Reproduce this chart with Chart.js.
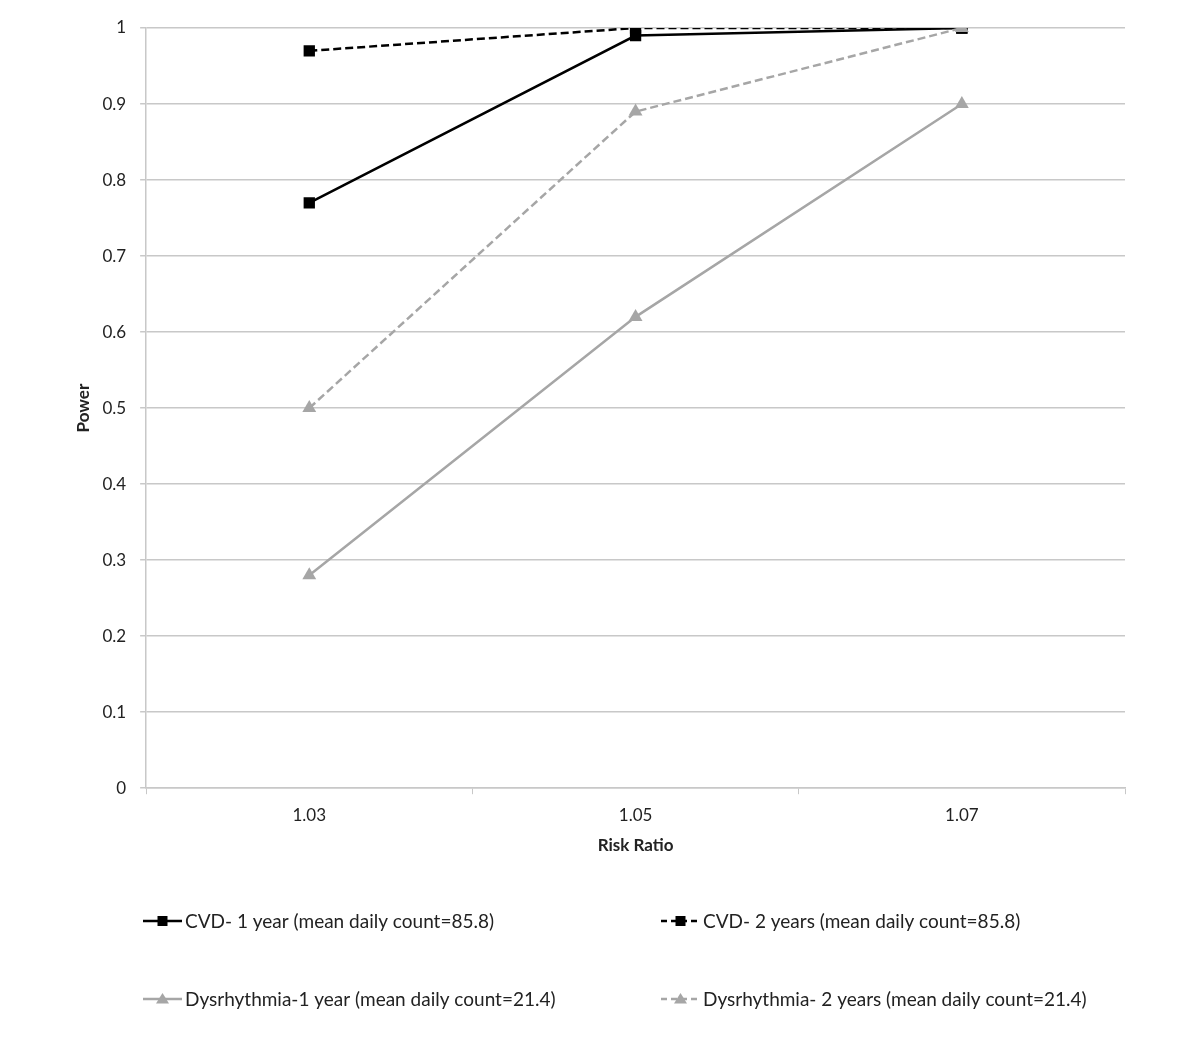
<!DOCTYPE html>
<html>
<head>
<meta charset="utf-8">
<script src="https://cdn.jsdelivr.net/npm/chart.js@4.4.1/dist/chart.umd.min.js"></script>
<style>
  html, body { margin: 0; padding: 0; background: #fff; }
  #wrap { width: 1200px; height: 1053px; position: relative; }
</style>
</head>
<body>
<div id="wrap"><canvas id="powerChart"></canvas></div>
<script>
// Risk ratio categories and power values per series
const riskRatios = ['1.03', '1.05', '1.07'];
const cvd1Year = [0.77, 0.99, 1.0];
const cvd2Years = [0.97, 1.0, 1.0];
const dys1Year = [0.28, 0.62, 0.90];
const dys2Years = [0.50, 0.89, 1.0];
const seriesLabels = [
    'CVD- 1 year (mean daily count=85.8)',
    'CVD- 2 years (mean daily count=85.8)',
    'Dysrhythmia-1 year (mean daily count=21.4)',
    'Dysrhythmia- 2 years (mean daily count=21.4)'
];

const FONT = 'Lato, "Open Sans", sans-serif';
const black = '#000000';
const grey = '#a6a6a6';
const gridColor = '#c8c8c8';

const series = (label, data, color, dashed, marker, order) => ({
    label: label,
    data: data,
    borderColor: color,
    backgroundColor: color,
    pointBackgroundColor: color,
    pointBorderColor: color,
    borderWidth: 2.5,
    borderDash: dashed ? [8, 4] : [],
    pointStyle: marker,
    pointRadius: 8,
    pointBorderWidth: 0,
    tension: 0,
    fill: false,
    order: order
});

const datasets = [
    series(seriesLabels[0], cvd1Year, black, false, 'rect', 4),
    series(seriesLabels[1], cvd2Years, black, true, 'rect', 3),
    series(seriesLabels[2], dys1Year, grey, false, 'triangle', 2),
    series(seriesLabels[3], dys2Years, grey, true, 'triangle', 1)
];

// Legend drawn in two columns below the plot, like the Excel original
const bottomLegend = {
    id: 'bottomLegend',
    afterDraw(chart) {
        const ctx = chart.ctx;
        const cols = [143, 661];
        const rows = [921, 999];
        ctx.save();
        chart.data.datasets.forEach((ds, i) => {
            const x = cols[i % 2];
            const y = rows[Math.floor(i / 2)];
            ctx.strokeStyle = ds.borderColor;
            ctx.fillStyle = ds.borderColor;
            ctx.lineWidth = 2.5;
            ctx.setLineDash(ds.borderDash.length ? [6, 4] : []);
            ctx.beginPath();
            ctx.moveTo(x, y);
            ctx.lineTo(x + 39, y);
            ctx.stroke();
            ctx.setLineDash([]);
            const cx = x + 19.5;
            ctx.beginPath();
            if (ds.pointStyle === 'rect') {
                ctx.rect(cx - 5, y - 5, 10, 10);
            } else {
                ctx.moveTo(cx, y - 6);
                ctx.lineTo(cx + 6.5, y + 4.5);
                ctx.lineTo(cx - 6.5, y + 4.5);
                ctx.closePath();
            }
            ctx.fill();
            ctx.fillStyle = '#222';
            ctx.font = '19px ' + FONT;
            ctx.textBaseline = 'middle';
            ctx.textAlign = 'left';
            ctx.fillText(ds.label, x + 42, y + 1);
        });
        ctx.restore();
    }
};

new Chart(document.getElementById('powerChart'), {
    type: 'line',
    data: {
        labels: riskRatios,
        datasets: datasets
    },
    options: {
        responsive: true,
        maintainAspectRatio: false,
        animation: false,
        layout: {
            padding: { top: 28, right: 75, bottom: 193, left: 69 }
        },
        scales: {
            x: {
                offset: true,
                grid: {
                    offset: true,
                    drawOnChartArea: false,
                    color: gridColor,
                    tickLength: 6
                },
                border: { color: gridColor, width: 1.5 },
                ticks: {
                    color: '#222',
                    font: { family: FONT, size: 17 },
                    padding: 11
                },
                title: {
                    display: true,
                    text: 'Risk Ratio',
                    color: '#222',
                    font: { family: FONT, size: 17, weight: 'bold' },
                    padding: { top: -1 }
                }
            },
            y: {
                min: 0,
                max: 1,
                grid: {
                    color: gridColor,
                    lineWidth: 1.5,
                    tickLength: 6
                },
                border: { color: gridColor, width: 1.5 },
                ticks: {
                    stepSize: 0.1,
                    color: '#222',
                    font: { family: FONT, size: 17 },
                    padding: 14,
                    callback: v => Math.round(v * 10) / 10
                },
                title: {
                    display: true,
                    text: 'Power',
                    color: '#222',
                    font: { family: FONT, size: 17, weight: 'bold' },
                    padding: { top: 4, bottom: -5 }
                }
            }
        },
        plugins: {
            legend: { display: false },
            tooltip: { enabled: false }
        }
    },
    plugins: [bottomLegend]
});
</script>
</body>
</html>
